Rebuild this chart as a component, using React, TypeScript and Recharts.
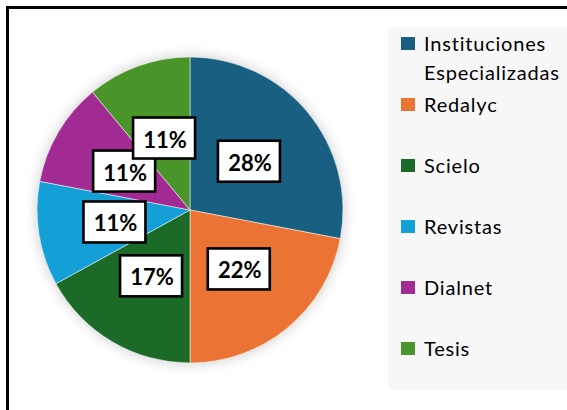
import { PieChart, Pie, Cell, Legend } from 'recharts'

const CATEGORIES = ['Instituciones Especializadas', 'Redalyc', 'Scielo', 'Revistas', 'Dialnet', 'Tesis']
const PERCENTS = [28, 22, 17, 11, 11, 11]
const COLORS = ['#185F81', '#EB7333', '#1C6A27', '#14A0D7', '#A12B92', '#4A952A']

const data = CATEGORIES.map((name, i) => ({ name, value: PERCENTS[i] }))

const RADIAN = Math.PI / 180
const FONT = 'Lato, Carlito, Calibri, sans-serif'
const PIE_CX = 190
const PIE_CY = 210
const PIE_R = 153

function BoxLabel(props: any) {
  const { cx, cy, midAngle, outerRadius, value } = props
  const r = outerRadius * 0.5
  const x = cx + r * Math.cos(-midAngle * RADIAN)
  const y = cy + r * Math.sin(-midAngle * RADIAN)
  return (
    <g>
      <rect x={x - 31} y={y - 20.5} width={62} height={41} fill="#fff" stroke="#000" strokeWidth={2.6} />
      <text
        x={x + 1}
        y={y + 1}
        textAnchor="middle"
        dominantBaseline="central"
        fontFamily={FONT}
        fontWeight={700}
        fontSize={22}
        fill="#000"
      >
        {value}%
      </text>
    </g>
  )
}

function LegendBox({ payload }: any) {
  const items = [...(payload ?? [])].sort(
    (a: any, b: any) => CATEGORIES.indexOf(a.value) - CATEGORIES.indexOf(b.value)
  )
  return (
    <div style={{ background: '#f8f8f8', width: '100%', height: '100%', boxSizing: 'border-box', paddingTop: 1.5, paddingLeft: 13 }}>
      {items.map((item: any, i: number) => (
        <div key={item.value ?? i} style={{ display: 'flex', alignItems: 'flex-start', height: 61 }}>
          <span style={{ width: 14, height: 13, background: item.color, marginTop: 8, marginRight: 9, flexShrink: 0 }} />
          <span style={{ fontFamily: FONT, fontSize: 20, lineHeight: '29px', color: '#000', letterSpacing: 0.8, maxWidth: 150 }}>
            {item.value}
          </span>
        </div>
      ))}
    </div>
  )
}

export default function App() {
  return (
    <div style={{ position: 'fixed', left: 0, top: 0, width: 567, height: 410, overflow: 'hidden', background: '#fff' }}>
      <div style={{ position: 'absolute', left: 6, top: 6, width: 620, height: 460, border: '3px solid #000' }} />
      <div
        style={{
          position: 'absolute',
          left: PIE_CX - PIE_R,
          top: PIE_CY - PIE_R,
          width: PIE_R * 2,
          height: PIE_R * 2,
          borderRadius: '50%',
          boxShadow: '0 0 12px 2px rgba(0,0,0,0.16)',
        }}
      />
      <div style={{ position: 'absolute', left: 0, top: 0 }}>
        <PieChart width={567} height={410} margin={{ top: 0, right: 0, bottom: 0, left: 0 }}>
          <Pie
            data={data}
            dataKey="value"
            nameKey="name"
            cx={PIE_CX}
            cy={PIE_CY}
            outerRadius={PIE_R}
            startAngle={90}
            endAngle={-270}
            stroke="#ffffff"
            strokeWidth={0.5}
            label={<BoxLabel />}
            labelLine={false}
            isAnimationActive={false}
          >
            {data.map((d, i) => (
              <Cell key={d.name} fill={COLORS[i]} />
            ))}
          </Pie>
          <Legend
            layout="vertical"
            align="right"
            verticalAlign="top"
            content={<LegendBox />}
            wrapperStyle={{ left: 388, top: 27, width: 179, height: 363 }}
          />
        </PieChart>
      </div>
    </div>
  )
}
